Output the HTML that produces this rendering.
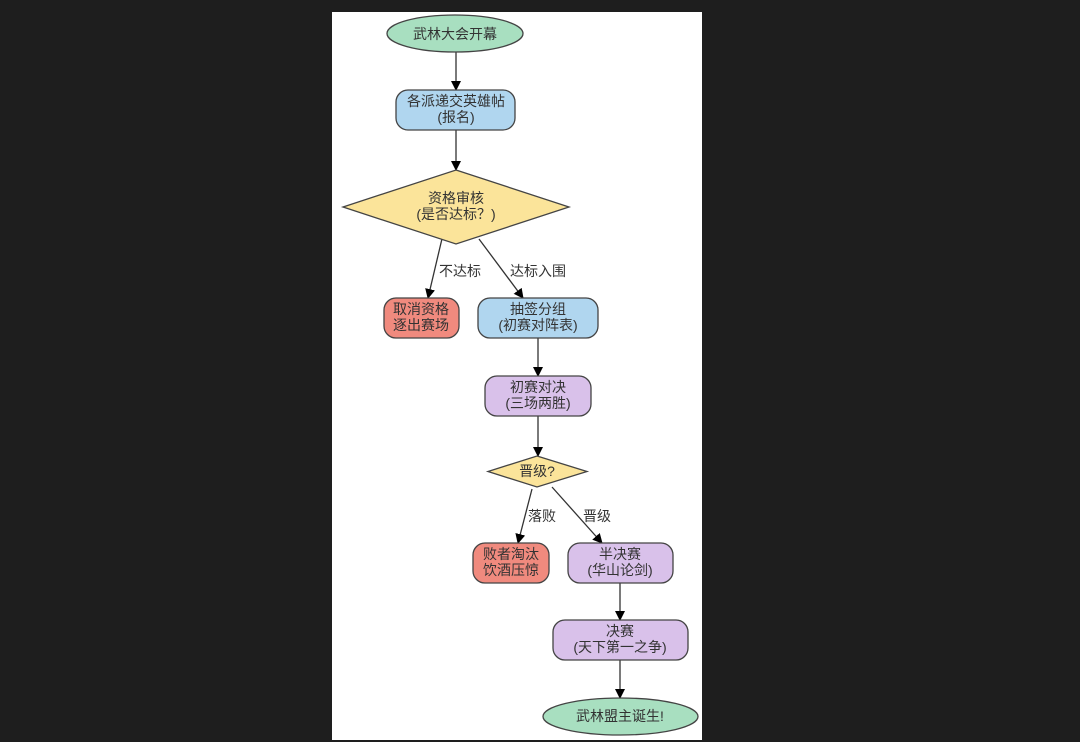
<!DOCTYPE html>
<html><head><meta charset="utf-8"><style>
html,body{margin:0;padding:0;background:#1e1e1e;width:1080px;height:742px;overflow:hidden}
svg{position:absolute;left:0;top:0}
text{font-family:"Liberation Sans","Noto Sans CJK SC",sans-serif;font-size:14px;fill:#333;text-anchor:middle}
</style></head><body>
<svg width="1080" height="742" viewBox="0 0 1080 742">
<defs><marker id="a" markerWidth="10" markerHeight="10" refX="9" refY="5" orient="auto" markerUnits="userSpaceOnUse"><path d="M0,0 L10,5 L0,10 z" fill="#000"/></marker></defs>
<rect x="332" y="12" width="370" height="728" fill="#fff"/>
<g stroke="#333" stroke-width="1.3" fill="none" marker-end="url(#a)">
<line x1="456" y1="52" x2="456" y2="90"/>
<line x1="456" y1="130" x2="456" y2="170"/>
<line x1="445" y1="226" x2="428" y2="298"/>
<line x1="479" y1="239" x2="523" y2="298"/>
<line x1="538" y1="338" x2="538" y2="376"/>
<line x1="538" y1="416" x2="538" y2="456"/>
<line x1="532" y1="489" x2="518" y2="543"/>
<line x1="552" y1="487" x2="602" y2="543"/>
<line x1="620" y1="583" x2="620" y2="620"/>
<line x1="620" y1="660" x2="620" y2="698"/>
</g>
<g stroke="#444" stroke-width="1.3">
<ellipse cx="455" cy="33.5" rx="68" ry="18.5" fill="#a8dfc0"/>
<rect x="396" y="90" width="119" height="40" rx="12" fill="#b0d6ef"/>
<polygon points="456,170 569,207 456,244 343,207" fill="#fbe49a"/>
<rect x="384" y="298" width="75" height="40" rx="12" fill="#f08a7e"/>
<rect x="478" y="298" width="120" height="40" rx="12" fill="#b0d6ef"/>
<rect x="485" y="376" width="106" height="40" rx="12" fill="#d9c1ea"/>
<polygon points="537,456 587,471.5 537,487 488,471.5" fill="#fbe49a"/>
<rect x="473" y="543" width="76" height="40" rx="12" fill="#f08a7e"/>
<rect x="568" y="543" width="105" height="40" rx="12" fill="#d9c1ea"/>
<rect x="553" y="620" width="135" height="40" rx="12" fill="#d9c1ea"/>
<ellipse cx="620.5" cy="716.5" rx="77.5" ry="18.5" fill="#a8dfc0"/>
</g>
<text x="455" y="39">武林大会开幕</text>
<text x="456" y="106">各派递交英雄帖</text><text x="456" y="122">(报名)</text>
<text x="456" y="203">资格审核</text><text x="456" y="219">(是否达标？)</text>
<text x="460" y="276">不达标</text>
<text x="538" y="276">达标入围</text>
<text x="421" y="314">取消资格</text><text x="421" y="330">逐出赛场</text>
<text x="538" y="314">抽签分组</text><text x="538" y="330">(初赛对阵表)</text>
<text x="538" y="392">初赛对决</text><text x="538" y="408">(三场两胜)</text>
<text x="537" y="476">晋级?</text>
<text x="542" y="521">落败</text>
<text x="597" y="521">晋级</text>
<text x="511" y="559">败者淘汰</text><text x="511" y="575">饮酒压惊</text>
<text x="620" y="559">半决赛</text><text x="620" y="575">(华山论剑)</text>
<text x="620" y="636">决赛</text><text x="620" y="652">(天下第一之争)</text>
<text x="620" y="721">武林盟主诞生!</text>
</svg>
</body></html>
